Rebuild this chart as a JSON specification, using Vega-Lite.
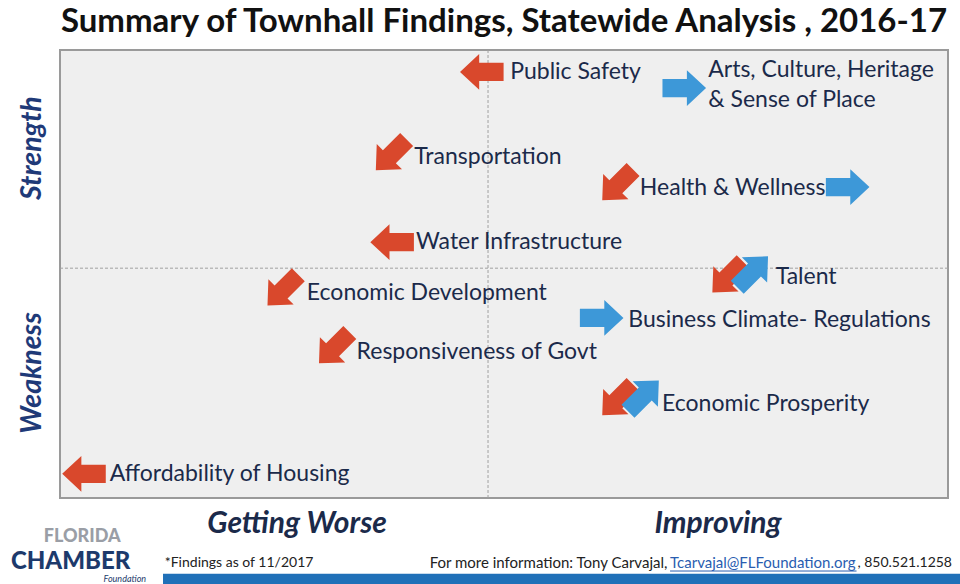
{
  "$schema": "https://vega.github.io/schema/vega-lite/v6.json",
  "width": 888,
  "height": 448,
  "autosize": {"type": "none"},
  "padding": {"left": 60, "top": 50, "right": 12, "bottom": 86},
  "background": "#ffffff",
  "config": {
    "view": {"fill": "#efefef", "stroke": "#9a9a9a", "strokeWidth": 2},
    "font": "Lato"
  },
  "title": {
    "text": "Summary of Townhall Findings, Statewide Analysis , 2016-17",
    "anchor": "middle",
    "fontSize": 33,
    "fontWeight": "bold",
    "font": "Lato",
    "color": "#111111",
    "offset": 11
  },
  "datasets": {
    "arrows": [
      {"item": "Public Safety", "x": 47.5, "y": 95.1, "dir": "left"},
      {"item": "Arts, Culture, Heritage & Sense of Place", "x": 70.3, "y": 91.5, "dir": "right"},
      {"item": "Transportation", "x": 37.3, "y": 76.6, "dir": "down-left"},
      {"item": "Health & Wellness", "x": 62.8, "y": 69.9, "dir": "down-left"},
      {"item": "Health & Wellness", "x": 88.7, "y": 69.4, "dir": "right"},
      {"item": "Water Infrastructure", "x": 37.4, "y": 57.1, "dir": "left"},
      {"item": "Talent", "x": 75.2, "y": 49.3, "dir": "down-left"},
      {"item": "Talent", "x": 78.0, "y": 50.5, "dir": "up-right"},
      {"item": "Economic Development", "x": 25.1, "y": 46.4, "dir": "down-left"},
      {"item": "Business Climate- Regulations", "x": 61.0, "y": 40.2, "dir": "right"},
      {"item": "Responsiveness of Govt", "x": 30.9, "y": 33.5, "dir": "down-left"},
      {"item": "Economic Prosperity", "x": 62.8, "y": 21.9, "dir": "down-left"},
      {"item": "Economic Prosperity", "x": 65.7, "y": 22.8, "dir": "up-right"},
      {"item": "Affordability of Housing", "x": 2.7, "y": 5.4, "dir": "left"}
    ],
    "labels": [
      {"label": "Public Safety", "x": 50.7, "y": 95.1},
      {"label": ["Arts, Culture, Heritage", "& Sense of Place"], "x": 73.0, "y": 95.5},
      {"label": "Transportation", "x": 39.9, "y": 76.1},
      {"label": "Health & Wellness", "x": 65.3, "y": 69.2},
      {"label": "Water Infrastructure", "x": 40.1, "y": 57.1},
      {"label": "Talent", "x": 80.6, "y": 49.3},
      {"label": "Economic Development", "x": 27.8, "y": 45.8},
      {"label": "Business Climate- Regulations", "x": 64.0, "y": 39.7},
      {"label": "Responsiveness of Govt", "x": 33.4, "y": 32.6},
      {"label": "Economic Prosperity", "x": 67.8, "y": 21.0},
      {"label": "Affordability of Housing", "x": 5.6, "y": 5.4}
    ]
  },
  "layer": [
    {
      "data": {"values": [{"x": 48.2}]},
      "mark": {"type": "rule", "color": "#a0a0a0", "strokeWidth": 1, "strokeDash": [3, 2]},
      "encoding": {
        "x": {"field": "x", "type": "quantitative", "scale": {"domain": [0, 100], "nice": false}, "axis": null}
      }
    },
    {
      "data": {"values": [{"y": 51.3}]},
      "mark": {"type": "rule", "color": "#a0a0a0", "strokeWidth": 1, "strokeDash": [3, 2]},
      "encoding": {
        "y": {"field": "y", "type": "quantitative", "scale": {"domain": [0, 100], "nice": false}, "axis": null}
      }
    },
    {
      "data": {"name": "arrows"},
      "transform": [{"filter": "datum.dir === 'left'"}],
      "mark": {"type": "point", "filled": true, "opacity": 1, "size": 1900, "angle": 180, "color": "#d9482c",
        "shape": "M -1 -0.42 L 0.12 -0.42 L 0.12 -0.82 L 1 0 L 0.12 0.82 L 0.12 0.42 L -1 0.42 Z"},
      "encoding": {
        "x": {"field": "x", "type": "quantitative", "scale": {"domain": [0, 100], "nice": false}, "axis": null},
        "y": {"field": "y", "type": "quantitative", "scale": {"domain": [0, 100], "nice": false}, "axis": null}
      }
    },
    {
      "data": {"name": "arrows"},
      "transform": [{"filter": "datum.dir === 'down-left'"}],
      "mark": {"type": "point", "filled": true, "opacity": 1, "size": 1900, "angle": 135, "color": "#d9482c",
        "shape": "M -1 -0.42 L 0.12 -0.42 L 0.12 -0.82 L 1 0 L 0.12 0.82 L 0.12 0.42 L -1 0.42 Z"},
      "encoding": {
        "x": {"field": "x", "type": "quantitative", "scale": {"domain": [0, 100], "nice": false}, "axis": null},
        "y": {"field": "y", "type": "quantitative", "scale": {"domain": [0, 100], "nice": false}, "axis": null}
      }
    },
    {
      "data": {"name": "arrows"},
      "transform": [{"filter": "datum.dir === 'right'"}],
      "mark": {"type": "point", "filled": true, "opacity": 1, "size": 1900, "angle": 0, "color": "#3d98d8",
        "shape": "M -1 -0.42 L 0.12 -0.42 L 0.12 -0.82 L 1 0 L 0.12 0.82 L 0.12 0.42 L -1 0.42 Z"},
      "encoding": {
        "x": {"field": "x", "type": "quantitative", "scale": {"domain": [0, 100], "nice": false}, "axis": null},
        "y": {"field": "y", "type": "quantitative", "scale": {"domain": [0, 100], "nice": false}, "axis": null}
      }
    },
    {
      "data": {"name": "arrows"},
      "transform": [{"filter": "datum.dir === 'up-right'"}],
      "mark": {"type": "point", "filled": true, "opacity": 1, "size": 1900, "angle": 315, "color": "#3d98d8",
        "shape": "M -1 -0.42 L 0.12 -0.42 L 0.12 -0.82 L 1 0 L 0.12 0.82 L 0.12 0.42 L -1 0.42 Z"},
      "encoding": {
        "x": {"field": "x", "type": "quantitative", "scale": {"domain": [0, 100], "nice": false}, "axis": null},
        "y": {"field": "y", "type": "quantitative", "scale": {"domain": [0, 100], "nice": false}, "axis": null}
      }
    },
    {
      "data": {"name": "labels"},
      "mark": {"type": "text", "align": "left", "baseline": "middle", "fontSize": 23, "color": "#1b2a4a", "lineHeight": 30},
      "encoding": {
        "x": {"field": "x", "type": "quantitative", "scale": {"domain": [0, 100], "nice": false}, "axis": null},
        "y": {"field": "y", "type": "quantitative", "scale": {"domain": [0, 100], "nice": false}, "axis": null},
        "text": {"field": "label"}
      }
    },
    {
      "data": {"values": [{"side": "Strength", "x": -3.2, "y": 78.1}, {"side": "Weakness", "x": -3.2, "y": 27.9}]},
      "mark": {"type": "text", "angle": 270, "align": "center", "baseline": "middle", "fontSize": 28.5, "fontWeight": "bold", "fontStyle": "italic", "color": "#1f3a78"},
      "encoding": {
        "x": {"field": "x", "type": "quantitative", "scale": {"domain": [0, 100], "nice": false}, "axis": null},
        "y": {"field": "y", "type": "quantitative", "scale": {"domain": [0, 100], "nice": false}, "axis": null},
        "text": {"field": "side"}
      }
    },
    {
      "data": {"values": [{"side": "Getting Worse", "x": 26.7, "y": -5.8}, {"side": "Improving", "x": 74.1, "y": -5.8}]},
      "mark": {"type": "text", "align": "center", "baseline": "middle", "fontSize": 30, "fontWeight": "bold", "fontStyle": "italic", "color": "#1b2a4a"},
      "encoding": {
        "x": {"field": "x", "type": "quantitative", "scale": {"domain": [0, 100], "nice": false}, "axis": null},
        "y": {"field": "y", "type": "quantitative", "scale": {"domain": [0, 100], "nice": false}, "axis": null},
        "text": {"field": "side"}
      }
    },
    {
      "data": {"values": [{"x": 11.6, "x2": 101.4, "y": -16.9, "y2": -19.3}]},
      "mark": {"type": "rect", "color": "#2070b8"},
      "encoding": {
        "x": {"field": "x", "type": "quantitative", "scale": {"domain": [0, 100], "nice": false}, "axis": null},
        "x2": {"field": "x2"},
        "y": {"field": "y", "type": "quantitative", "scale": {"domain": [0, 100], "nice": false}, "axis": null},
        "y2": {"field": "y2"}
      }
    },
    {
      "data": {"values": [{"t": "*Findings as of 11/2017", "x": 11.8, "y": -14.4}]},
      "mark": {"type": "text", "align": "left", "baseline": "middle", "fontSize": 14, "color": "#222222"},
      "encoding": {
        "x": {"field": "x", "type": "quantitative", "scale": {"domain": [0, 100], "nice": false}, "axis": null},
        "y": {"field": "y", "type": "quantitative", "scale": {"domain": [0, 100], "nice": false}, "axis": null},
        "text": {"field": "t"}
      }
    },
    {
      "data": {"values": [{"t": "For more information: Tony Carvajal,", "x": 68.4, "y": -14.4}]},
      "mark": {"type": "text", "align": "right", "baseline": "middle", "fontSize": 15, "color": "#222222"},
      "encoding": {
        "x": {"field": "x", "type": "quantitative", "scale": {"domain": [0, 100], "nice": false}, "axis": null},
        "y": {"field": "y", "type": "quantitative", "scale": {"domain": [0, 100], "nice": false}, "axis": null},
        "text": {"field": "t"}
      }
    },
    {
      "data": {"values": [{"t": "Tcarvajal@FLFoundation.org", "x": 68.7, "y": -14.4}]},
      "mark": {"type": "text", "align": "left", "baseline": "middle", "fontSize": 15, "color": "#2a5db0"},
      "encoding": {
        "x": {"field": "x", "type": "quantitative", "scale": {"domain": [0, 100], "nice": false}, "axis": null},
        "y": {"field": "y", "type": "quantitative", "scale": {"domain": [0, 100], "nice": false}, "axis": null},
        "text": {"field": "t"}
      }
    },
    {
      "data": {"values": [{"t": ", 850.521.1258", "x": 89.8, "y": -14.4}]},
      "mark": {"type": "text", "align": "left", "baseline": "middle", "fontSize": 14, "color": "#222222"},
      "encoding": {
        "x": {"field": "x", "type": "quantitative", "scale": {"domain": [0, 100], "nice": false}, "axis": null},
        "y": {"field": "y", "type": "quantitative", "scale": {"domain": [0, 100], "nice": false}, "axis": null},
        "text": {"field": "t"}
      }
    },
    {
      "data": {"values": [{"x": 68.7, "x2": 89.7, "y": -16.3}]},
      "mark": {"type": "rule", "color": "#2a5db0", "strokeWidth": 1},
      "encoding": {
        "x": {"field": "x", "type": "quantitative", "scale": {"domain": [0, 100], "nice": false}, "axis": null},
        "x2": {"field": "x2"},
        "y": {"field": "y", "type": "quantitative", "scale": {"domain": [0, 100], "nice": false}, "axis": null}
      }
    },
    {
      "data": {"values": [{"t": "FLORIDA", "x": 2.5, "y": -8.8}]},
      "mark": {"type": "text", "align": "center", "baseline": "middle", "fontSize": 18, "fontWeight": 900, "color": "#9a9ea6"},
      "encoding": {
        "x": {"field": "x", "type": "quantitative", "scale": {"domain": [0, 100], "nice": false}, "axis": null},
        "y": {"field": "y", "type": "quantitative", "scale": {"domain": [0, 100], "nice": false}, "axis": null},
        "text": {"field": "t"}
      }
    },
    {
      "data": {"values": [{"t": "CHAMBER", "x": 1.2, "y": -14.3}]},
      "mark": {"type": "text", "align": "center", "baseline": "middle", "fontSize": 24, "fontWeight": 900, "color": "#1d3a6c"},
      "encoding": {
        "x": {"field": "x", "type": "quantitative", "scale": {"domain": [0, 100], "nice": false}, "axis": null},
        "y": {"field": "y", "type": "quantitative", "scale": {"domain": [0, 100], "nice": false}, "axis": null},
        "text": {"field": "t"}
      }
    },
    {
      "data": {"values": [{"t": "Foundation", "x": 7.3, "y": -18.0}]},
      "mark": {"type": "text", "align": "center", "baseline": "middle", "fontSize": 9, "fontStyle": "italic", "color": "#1d3a6c"},
      "encoding": {
        "x": {"field": "x", "type": "quantitative", "scale": {"domain": [0, 100], "nice": false}, "axis": null},
        "y": {"field": "y", "type": "quantitative", "scale": {"domain": [0, 100], "nice": false}, "axis": null},
        "text": {"field": "t"}
      }
    }
  ]
}
